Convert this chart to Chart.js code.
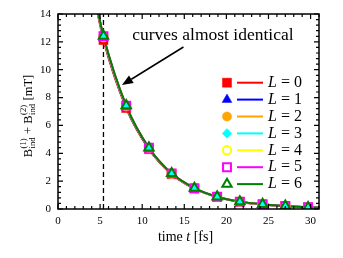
<!DOCTYPE html>
<html><head><meta charset="utf-8">
<script src="https://cdn.jsdelivr.net/npm/chart.js@4.4.0/dist/chart.umd.min.js"></script>
<style>html,body{margin:0;padding:0;background:#fff}#w{width:343px;height:258px}</style>
</head><body><div id="w"><canvas id="c" width="343" height="258"></canvas></div>
<script>
// ---- data ----
const markerTimes = [5.4, 8.1, 10.8, 13.5, 16.2, 18.9, 21.6, 24.3, 27.0, 29.7];
const lineStartTime = 4.6;
const lineEndTime = 31;
const seriesL0 = [12.13, 7.25, 4.30, 2.50, 1.46, 0.86, 0.51, 0.32, 0.20, 0.11];
const seriesL1 = [12.28, 7.34, 4.35, 2.53, 1.48, 0.87, 0.52, 0.33, 0.21, 0.12];
const seriesL2 = [12.32, 7.37, 4.37, 2.54, 1.49, 0.87, 0.52, 0.33, 0.21, 0.12];
const seriesL3 = [12.35, 7.39, 4.38, 2.55, 1.49, 0.88, 0.53, 0.34, 0.22, 0.12];
const seriesL4 = [12.37, 7.40, 4.39, 2.55, 1.50, 0.88, 0.53, 0.34, 0.22, 0.12];
const seriesL5 = [12.40, 7.42, 4.40, 2.56, 1.50, 0.88, 0.53, 0.34, 0.22, 0.12];
const seriesL6 = [12.42, 7.43, 4.40, 2.56, 1.50, 0.88, 0.53, 0.34, 0.22, 0.12];
const lineStartValues = [14.35, 14.5, 14.52, 14.55, 14.57, 14.6, 14.62];
const lineEndValues = [0.085, 0.09, 0.09, 0.09, 0.09, 0.09, 0.09];
const seriesLabels = ['0', '1', '2', '3', '4', '5', '6'];
const xTicks = [0, 5, 10, 15, 20, 25, 30];
const yTicks = [0, 2, 4, 6, 8, 10, 12, 14];
const dashedLineTime = 5.4;
const annotationText = 'curves almost identical';

// ---- styles ----
const allSeries = [seriesL0, seriesL1, seriesL2, seriesL3, seriesL4, seriesL5, seriesL6];
const colors = ['#ff0000', '#0000ff', '#ffa500', '#00ffff', '#ffff00', '#ff00ff', '#008000'];
const pStyles = ['rect', 'triangle', 'circle', 'rectRot', 'circle', 'rect', 'triangle'];
const pRadius = [6.4, 5.6, 4.6, 4.8, 4.2, 5.6, 5.4];
const filled = [true, true, true, true, false, false, false];
const SERIF = '"Liberation Serif", "DejaVu Serif", serif';

const datasets = [];
allSeries.forEach((vals, i) => {
  const lineData = [{x: lineStartTime, y: lineStartValues[i]}]
    .concat(markerTimes.map((t, k) => ({x: t, y: vals[k]})))
    .concat([{x: lineEndTime, y: lineEndValues[i]}]);
  datasets.push({
    label: 'line' + i, data: lineData, showLine: true, borderColor: colors[i],
    borderWidth: 2, pointRadius: 0, cubicInterpolationMode: 'monotone', order: 30 - i
  });
});
allSeries.forEach((vals, i) => {
  datasets.push({
    label: 'L = ' + seriesLabels[i], data: markerTimes.map((t, k) => ({x: t, y: vals[k]})),
    showLine: false, pointStyle: pStyles[i], pointRadius: pRadius[i],
    pointBackgroundColor: filled[i] ? colors[i] : 'rgba(0,0,0,0)',
    pointBorderColor: colors[i], pointBorderWidth: filled[i] ? 0.5 : 2, order: 10 - i
  });
});

function drawMarker(ctx, style, r, x, y) {
  ctx.beginPath();
  if (style === 'rect') {
    const s = Math.SQRT1_2 * r; ctx.rect(x - s, y - s, 2 * s, 2 * s);
  } else if (style === 'rectRot') {
    ctx.moveTo(x, y - r); ctx.lineTo(x + r, y); ctx.lineTo(x, y + r); ctx.lineTo(x - r, y); ctx.closePath();
  } else if (style === 'triangle') {
    for (let k = 0; k < 3; k++) {
      const a = -Math.PI / 2 + k * 2 * Math.PI / 3;
      const px = x + Math.cos(a) * r, py = y + Math.sin(a) * r;
      if (k === 0) ctx.moveTo(px, py); else ctx.lineTo(px, py);
    }
    ctx.closePath();
  } else {
    ctx.arc(x, y, r, 0, Math.PI * 2);
  }
}

const decorPlugin = {
  id: 'decor',
  beforeDatasetsDraw(chart) {
    const {ctx, chartArea: a, scales: {x, y}} = chart;
    ctx.save();
    ctx.strokeStyle = '#000'; ctx.lineWidth = 1.3; ctx.setLineDash([5, 3]);
    const px = x.getPixelForValue(dashedLineTime);
    ctx.beginPath(); ctx.moveTo(px, a.bottom); ctx.lineTo(px, a.top); ctx.stroke();
    ctx.restore();
  },
  afterDraw(chart) {
    const {ctx, chartArea: a, scales: {x, y}} = chart;
    ctx.save();
    // frame
    ctx.strokeStyle = '#000'; ctx.lineWidth = 1.5;
    ctx.strokeRect(a.left, a.top, a.right - a.left, a.bottom - a.top);
    ctx.lineWidth = 1.2;
    ctx.beginPath();
    for (let v = 0; v <= 31.001; v += 1) {
      const p = x.getPixelForValue(v);
      const len = (Math.round(v) % 5 === 0) ? 5 : 3;
      ctx.moveTo(p, a.bottom); ctx.lineTo(p, a.bottom - len);
      ctx.moveTo(p, a.top); ctx.lineTo(p, a.top + len);
    }
    for (let k = 0; k <= 35; k++) {
      const v = k * 0.4;
      const p = y.getPixelForValue(v);
      const len = (k % 5 === 0) ? 5 : 3;
      ctx.moveTo(a.left, p); ctx.lineTo(a.left + len, p);
      ctx.moveTo(a.right, p); ctx.lineTo(a.right - len, p);
    }
    ctx.stroke();

    // annotation
    ctx.fillStyle = '#000';
    ctx.font = '17.5px ' + SERIF;
    ctx.textAlign = 'center'; ctx.textBaseline = 'middle';
    ctx.fillText(annotationText, x.getPixelForValue(18.4), y.getPixelForValue(12.45));
    const sx = x.getPixelForValue(14.9), sy = y.getPixelForValue(11.63);
    const tx = x.getPixelForValue(7.6), ty = y.getPixelForValue(8.9);
    const ang = Math.atan2(ty - sy, tx - sx);
    const hl = 11, hw = 4.5;
    const bx = tx - Math.cos(ang) * hl, by = ty - Math.sin(ang) * hl;
    ctx.lineWidth = 1.5;
    ctx.beginPath(); ctx.moveTo(sx, sy); ctx.lineTo(bx, by); ctx.stroke();
    ctx.beginPath();
    ctx.moveTo(tx, ty);
    ctx.lineTo(bx + Math.sin(ang) * hw, by - Math.cos(ang) * hw);
    ctx.lineTo(bx - Math.sin(ang) * hw, by + Math.cos(ang) * hw);
    ctx.closePath(); ctx.fill();

    // legend
    const rowY0 = 82.7, rowStep = 16.9;
    const mx = a.right - 92, lx0 = a.right - 82, lx1 = a.right - 56, txx = a.right - 51;
    for (let i = 0; i < 7; i++) {
      const ry = rowY0 + i * rowStep;
      ctx.strokeStyle = colors[i]; ctx.fillStyle = colors[i];
      ctx.lineWidth = filled[i] ? 0.5 : 2;
      drawMarker(ctx, pStyles[i], pRadius[i], mx, ry);
      if (filled[i]) ctx.fill();
      ctx.stroke();
      ctx.lineWidth = 2;
      ctx.beginPath(); ctx.moveTo(lx0, ry); ctx.lineTo(lx1, ry); ctx.stroke();
      ctx.fillStyle = '#000'; ctx.textAlign = 'left'; ctx.textBaseline = 'middle';
      ctx.font = 'italic 16px ' + SERIF;
      ctx.fillText('L', txx, ry);
      const w = ctx.measureText('L').width;
      ctx.font = '16px ' + SERIF;
      ctx.fillText(' = ' + seriesLabels[i], txx + w, ry);
    }

    // x title
    ctx.textBaseline = 'alphabetic';
    const xt1 = 'time ', xt2 = 't', xt3 = ' [fs]';
    ctx.font = '14px ' + SERIF; const w1 = ctx.measureText(xt1).width, w3 = ctx.measureText(xt3).width;
    ctx.font = 'italic 14px ' + SERIF; const w2 = ctx.measureText(xt2).width;
    let cx = (a.left + a.right) / 2 - (w1 + w2 + w3) / 2 - 3;
    const by0 = 241;
    ctx.font = '14px ' + SERIF; ctx.fillText(xt1, cx, by0); cx += w1;
    ctx.font = 'italic 14px ' + SERIF; ctx.fillText(xt2, cx, by0); cx += w2;
    ctx.font = '14px ' + SERIF; ctx.fillText(xt3, cx, by0);

    // y title (rotated)
    ctx.save();
    ctx.translate(28, 116);
    ctx.rotate(-Math.PI / 2);
    const big = '12.5px ' + SERIF, small = '8.5px ' + SERIF;
    const parts = [
      {t: 'B', f: big, dy: 0, adv: true},
      {t: 'ind', f: small, dy: 3, adv: false},
      {t: '(1)', f: small, dy: -6, adv: false},
      {t: ' + ', f: big, dy: 0, adv: true},
      {t: 'B', f: big, dy: 0, adv: true},
      {t: 'ind', f: small, dy: 3, adv: false},
      {t: '(2)', f: small, dy: -6, adv: false},
      {t: ' [mT]', f: big, dy: 0, adv: true}
    ];
    let total = 0, pendingMax = 0;
    const widths = parts.map(p => { ctx.font = p.f; return ctx.measureText(p.t).width; });
    for (let k = 0; k < parts.length; k++) {
      if (parts[k].adv) { total += pendingMax; pendingMax = 0; total += widths[k]; }
      else pendingMax = Math.max(pendingMax, widths[k] + 1);
    }
    total += pendingMax;
    let px = -total / 2; pendingMax = 0; let scriptX = 0;
    ctx.textAlign = 'left';
    for (let k = 0; k < parts.length; k++) {
      const p = parts[k];
      ctx.font = p.f;
      if (p.adv) {
        px += pendingMax; pendingMax = 0;
        ctx.fillText(p.t, px, p.dy + 4);
        px += widths[k]; scriptX = px + 0.5;
      } else {
        ctx.fillText(p.t, scriptX, p.dy + 4);
        pendingMax = Math.max(pendingMax, widths[k] + 1);
      }
    }
    ctx.restore();
    ctx.restore();
  }
};

new Chart(document.getElementById('c'), {
  type: 'scatter',
  data: {datasets},
  options: {
    responsive: false, animation: false, devicePixelRatio: 1,
    layout: {padding: {top: 14, right: 24, left: 0, bottom: 0}},
    plugins: {legend: {display: false}, tooltip: {enabled: false}},
    scales: {
      x: {
        type: 'linear', min: 0, max: 31,
        grid: {display: false, drawTicks: false}, border: {display: false},
        afterBuildTicks: s => { s.ticks = xTicks.map(v => ({value: v})); },
        afterFit: s => { s.height = 49; },
        ticks: {color: '#000', font: {family: SERIF, size: 11}, padding: 6, maxRotation: 0}
      },
      y: {
        type: 'linear', min: 0, max: 14,
        grid: {display: false, drawTicks: false}, border: {display: false},
        afterBuildTicks: s => { s.ticks = yTicks.map(v => ({value: v})); },
        afterFit: s => { s.width = 58; },
        ticks: {color: '#000', font: {family: SERIF, size: 11}, padding: 7}
      }
    }
  },
  plugins: [decorPlugin]
});
</script>
</body></html>
